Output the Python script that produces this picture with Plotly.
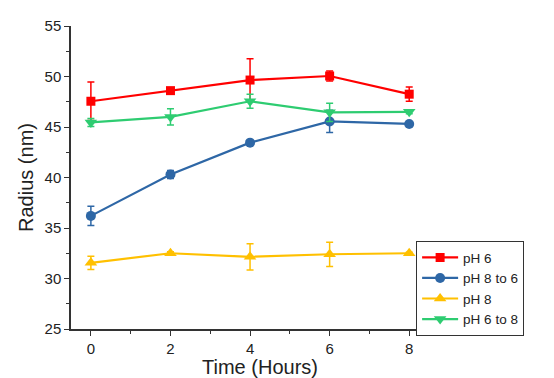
import plotly.graph_objects as go

time_hours = [0, 2, 4, 6, 8]

ph6 = [47.55, 48.6, 49.65, 50.05, 48.25]
ph6_err = [1.9, 0.2, 2.1, 0.5, 0.7]

ph8to6 = [36.2, 40.3, 43.45, 45.55, 45.3]
ph8to6_err = [0.95, 0.4, 0.15, 1.1, 0.1]

ph8 = [31.55, 32.5, 32.15, 32.4, 32.5]
ph8_err = [0.65, 0.15, 1.3, 1.2, 0.1]

ph6to8 = [45.45, 46.0, 47.55, 46.45, 46.5]
ph6to8_err = [0.4, 0.8, 0.7, 0.9, 0.2]

series = [
    ("pH 6", ph6, ph6_err, "#FF0000", "square", 9),
    ("pH 8 to 6", ph8to6, ph8to6_err, "#2E67A6", "circle", 10),
    ("pH 8", ph8, ph8_err, "#FFC000", "triangle-up", 11),
    ("pH 6 to 8", ph6to8, ph6to8_err, "#2ECC71", "triangle-down", 11),
]

fig = go.Figure()
for name, vals, errs, color, sym, msize in series:
    fig.add_trace(go.Scatter(
        x=time_hours, y=vals, name=name, mode="lines+markers",
        line=dict(color=color, width=2.2),
        marker=dict(symbol=sym, size=msize, color=color),
        error_y=dict(type="data", array=errs, visible=True, color=color,
                     thickness=1.5, width=3.5),
    ))

# page body has an 8px offset, so the figure is sized to fit the rest of the window
fig.update_layout(
    width=546, height=370,
    margin=dict(l=63, r=105, t=18, b=49, autoexpand=False),
    paper_bgcolor="white", plot_bgcolor="white",
    font=dict(family="Liberation Sans, Arial, sans-serif", color="#222222", size=15),
    showlegend=True,
    legend=dict(x=0.913, y=0.29, xanchor="left", yanchor="top",
                bordercolor="#333333", borderwidth=1, bgcolor="white",
                font=dict(size=13.5), itemwidth=36, tracegroupgap=0),
    xaxis=dict(
        range=[-0.5, 9], tickvals=[0, 2, 4, 6, 8], automargin=True,
        title=dict(text="Time (Hours)", font=dict(size=20), standoff=2),
        showline=True, linecolor="#333333", linewidth=1.5,
        ticks="outside", ticklen=5, tickwidth=1.2, tickcolor="#333333",
        minor=dict(dtick=1, ticks="outside", ticklen=3, tickcolor="#333333", tickwidth=1),
        showgrid=False, zeroline=False, mirror=False,
    ),
    yaxis=dict(
        range=[25, 55], tickvals=[25, 30, 35, 40, 45, 50, 55], automargin=True,
        title=dict(text="Radius (nm)", font=dict(size=20), standoff=6),
        showline=True, linecolor="#333333", linewidth=1.5,
        ticks="outside", ticklen=5, tickwidth=1.2, tickcolor="#333333",
        minor=dict(dtick=2.5, ticks="outside", ticklen=3, tickcolor="#333333", tickwidth=1),
        showgrid=False, zeroline=False, mirror=False,
    ),
)

fig.write_html("out.html")
